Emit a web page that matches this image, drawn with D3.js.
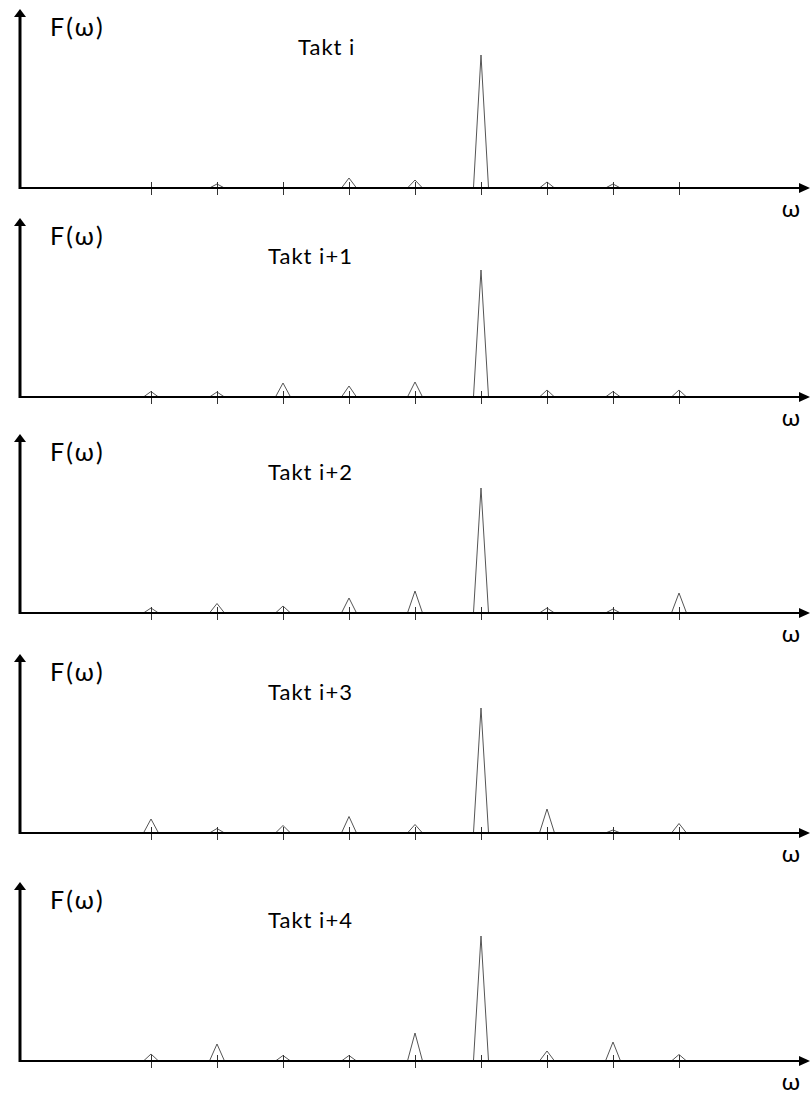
<!DOCTYPE html>
<html>
<head>
<meta charset="utf-8">
<script src="https://cdn.jsdelivr.net/npm/d3@7"></script>
<style>
  html, body { margin: 0; padding: 0; background: #fff; }
  svg { display: block; }
  text { font-family: Lato, "Liberation Sans", sans-serif; fill: #000; }
</style>
</head>
<body>
<svg id="chart" width="810" height="1095"></svg>
<script>
// ---- data ----
const categories = [1, 2, 3, 4, 5, 6, 7, 8, 9];          // harmonic positions on the ω axis
const taktLabels = ["Takt i", "Takt i+1", "Takt i+2", "Takt i+3", "Takt i+4"];
const yLabel = "F(ω)";
const xLabel = "ω";
const takt0 = [0, 4, 0, 10, 8, 133, 6, 4, 0];
const takt1 = [5.5, 5, 14, 11, 15, 127, 7, 5.5, 7];
const takt2 = [5, 9.5, 7, 15, 22, 125, 5, 4, 20];
const takt3 = [14, 4.5, 7.5, 16.5, 8.5, 125, 24, 3, 9.5];
const takt4 = [7, 17, 5.5, 5.5, 28, 125, 10, 19, 6.5];
const series = [takt0, takt1, takt2, takt3, takt4];

// ---- layout ----
const W = 810;
const axisYs = [188, 397, 613, 833, 1061];
const axisX = 20;
const halfBase = 0.114;   // half width of each spectral line (in ω units)

const svg = d3.select("#chart");
const x = d3.scaleLinear().domain([0, 10]).range([85, 745]);

series.forEach((vals, i) => {
  const ay = axisYs[i];
  const y = d3.scaleLinear().domain([0, 180]).range([ay, ay - 180]);
  const g = svg.append("g");

  // spectral lines (triangles)
  const tri = d3.line().x(d => d[0]).y(d => d[1]);
  g.selectAll("path.peak")
    .data(categories.map((c, k) => ({ c, v: vals[k] })).filter(d => d.v > 0))
    .join("path")
    .attr("class", "peak")
    .attr("d", d => tri([
      [x(d.c - halfBase), y(0)],
      [x(d.c), y(d.v)],
      [x(d.c + halfBase), y(0)]
    ]))
    .attr("fill", "none")
    .attr("stroke", "#555")
    .attr("stroke-width", 1);

  // tick marks via d3 axis
  const ax = d3.axisBottom(x).tickValues(categories).tickFormat("").tickSizeOuter(0);
  const axG = g.append("g").attr("transform", `translate(0,${ay})`).call(ax);
  axG.select(".domain").remove();
  axG.selectAll(".tick line")
    .attr("y1", -6).attr("y2", 7)
    .attr("stroke", "#333").attr("stroke-width", 1);

  // horizontal axis
  g.append("line")
    .attr("x1", axisX).attr("x2", W - 8)
    .attr("y1", ay).attr("y2", ay)
    .attr("stroke", "#000").attr("stroke-width", 2);
  g.append("path")
    .attr("d", `M${W - 11},${ay - 5} L${W},${ay} L${W - 11},${ay + 5} Z`)
    .attr("fill", "#000");

  // vertical axis
  const tipY = ay - 179;
  g.append("line")
    .attr("x1", axisX).attr("x2", axisX)
    .attr("y1", ay + 1).attr("y2", tipY + 6)
    .attr("stroke", "#000").attr("stroke-width", 3);
  g.append("path")
    .attr("d", `M${axisX - 6},${tipY + 8} L${axisX},${tipY} L${axisX + 6},${tipY + 8} Z`)
    .attr("fill", "#000");

  // labels
  g.append("text")
    .attr("x", 50).attr("y", ay - 152)
    .attr("font-size", 25)
    .attr("letter-spacing", 2)
    .text(yLabel);
  g.append("text")
    .attr("x", i === 0 ? 298 : 268).attr("y", ay - 133)
    .attr("font-size", 22)
    .attr("letter-spacing", 1)
    .text(taktLabels[i]);
  g.append("text")
    .attr("x", 791).attr("y", ay + 29)
    .attr("text-anchor", "middle")
    .attr("font-size", 24)
    .text(xLabel);
});
</script>
</body>
</html>
